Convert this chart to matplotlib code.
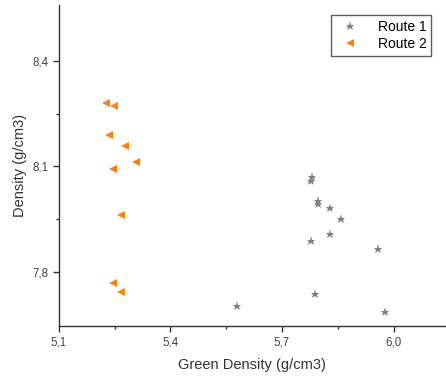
import matplotlib
matplotlib.use("Agg")
import matplotlib.pyplot as plt
from matplotlib.ticker import FixedLocator, FuncFormatter

plt.rcParams['font.family'] = ['Liberation Sans', 'DejaVu Sans']

# Route 1 (grey stars)
r1_green = [5.780, 5.778, 5.798, 5.798, 5.829, 5.859, 5.829, 5.778, 5.957, 5.789, 5.578, 5.977]
r1_dens = [8.071, 8.057, 8.002, 7.993, 7.981, 7.950, 7.907, 7.889, 7.865, 7.737, 7.703, 7.687]

# Route 2 (orange left triangles)
r2_green = [5.226, 5.249, 5.235, 5.278, 5.307, 5.246, 5.267, 5.246, 5.267]
r2_dens = [8.281, 8.272, 8.190, 8.159, 8.112, 8.092, 7.962, 7.768, 7.744]

xticks = [5.1, 5.4, 5.7, 6.0]
yticks = [7.8, 8.1, 8.4]

fig = plt.figure(figsize=(4.46, 3.76), dpi=100)
ax = fig.add_axes([0.132, 0.133, 0.868, 0.854])

ax.plot(r1_green, r1_dens, linestyle='none', marker='*', color='#808080',
        markersize=6.5, markeredgewidth=0, label='Route 1')
ax.plot(r2_green, r2_dens, linestyle='none', marker='<', color='#FF7F0E',
        markersize=6, markeredgewidth=0, label='Route 2')

ax.set_xlim(5.1, 6.141)
ax.set_ylim(7.646, 8.559)

ax.spines['top'].set_visible(False)
ax.spines['right'].set_visible(False)
for s in ('left', 'bottom'):
    ax.spines[s].set_linewidth(1.0)
    ax.spines[s].set_color('#333333')

comma = FuncFormatter(lambda v, p: ('%.1f' % v).replace('.', ','))
ax.xaxis.set_major_locator(FixedLocator(xticks))
ax.yaxis.set_major_locator(FixedLocator(yticks))
ax.xaxis.set_minor_locator(FixedLocator([5.25, 5.55, 5.85]))
ax.yaxis.set_minor_locator(FixedLocator([7.95, 8.25]))
ax.xaxis.set_major_formatter(comma)
ax.yaxis.set_major_formatter(comma)
ax.tick_params(which='major', direction='out', length=4, width=1, color='#333333',
               labelsize=8.3, labelcolor='#444444')
ax.tick_params(which='minor', direction='out', length=2.5, width=1, color='#333333')

ax.set_xlabel('Green Density (g/cm3)', fontsize=10.5, color='#333333', labelpad=7)
ax.set_ylabel('Density (g/cm3)', fontsize=10.5, color='#333333', labelpad=4)

leg = ax.legend(loc='upper right', bbox_to_anchor=(0.98, 0.99), fontsize=10,
                frameon=True, fancybox=False, handletextpad=1.0,
                borderpad=0.35, labelspacing=0.2, handlelength=2.0)
leg.get_frame().set_edgecolor('#333333')
leg.get_frame().set_linewidth(1.0)

fig.savefig('out.png', dpi=100)
